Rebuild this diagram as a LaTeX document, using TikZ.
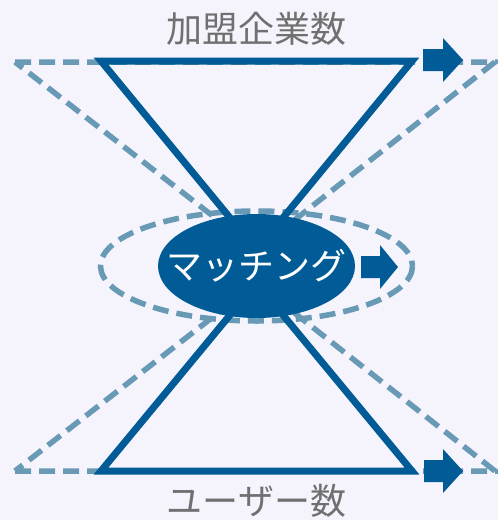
\documentclass[tikz,border=0pt]{standalone}
\usepackage{fontspec}
\setmainfont{Noto Sans CJK JP}
\usetikzlibrary{shapes.geometric}
\definecolor{bgcol}{RGB}{245,244,253}
\definecolor{mblue}{RGB}{0,91,150}
\definecolor{dblue}{RGB}{104,153,181}
\definecolor{tgray}{RGB}{112,112,112}
\tikzset{
  solidline/.style={draw=mblue, line width=7pt},
  dashline/.style={draw=dblue, line width=5.5pt, dash pattern=on 16pt off 8pt},
  blockarrow/.style={fill=mblue},
  bigtext/.style={font=\fontsize{36}{40}\selectfont}
}
\begin{document}
\begin{tikzpicture}[x=1pt, y=-1pt]
\fill[bgcol] (0,0) rectangle (498,520);
\useasboundingbox (0,0) rectangle (498,520);
% corners
\coordinate (TL) at (15,62);
\coordinate (TR) at (495,62);
\coordinate (BL) at (15,471);
\coordinate (BR) at (495,471);
\coordinate (tl) at (101,61);
\coordinate (tr) at (412,61);
\coordinate (bl) at (101,471);
\coordinate (br) at (412,471);
\coordinate (TA) at (256.5,250);
\coordinate (BA) at (256.5,283);
% dashed outline
\draw[dashline] (256.5,266) ellipse [x radius=156, y radius=55];
\draw[dashline] (TL) -- (TR) -- (TA) -- cycle;
\draw[dashline] (BL) -- (BR) -- (BA) -- cycle;
% hourglass
\draw[solidline] (tl) -- (tr) -- (TA) -- cycle;
\draw[solidline] (bl) -- (br) -- (BA) -- cycle;
\node[ellipse, fill=mblue, minimum width=197pt, minimum height=104pt, inner sep=0pt] (M) at (256.5,266) {};
\node[text=white, bigtext] (Mtext) at (M.center) {マッチング};
% arrows
\coordinate (A1) at (423,60);
\coordinate (A2) at (361,267);
\coordinate (A3) at (424,471);
\fill[blockarrow] (A1) ++(0,-11) -- ++(20,0) -- ++(0,-11) -- ++(20,22) -- ++(-20,22) -- ++(0,-11) -- ++(-20,0) -- cycle;
\fill[blockarrow] (A2) ++(0,-11) -- ++(19,0) -- ++(0,-11) -- ++(18,22) -- ++(-18,22) -- ++(0,-11) -- ++(-19,0) -- cycle;
\fill[blockarrow] (A3) ++(0,-11) -- ++(19,0) -- ++(0,-11) -- ++(20,22) -- ++(-20,22) -- ++(0,-11) -- ++(-19,0) -- cycle;
% labels
\node[text=tgray, bigtext] (top) at (256.5,29) {加盟企業数};
\node[text=tgray, bigtext] (bot) at (256.5,501) {ユーザー数};
\end{tikzpicture}
\end{document}
